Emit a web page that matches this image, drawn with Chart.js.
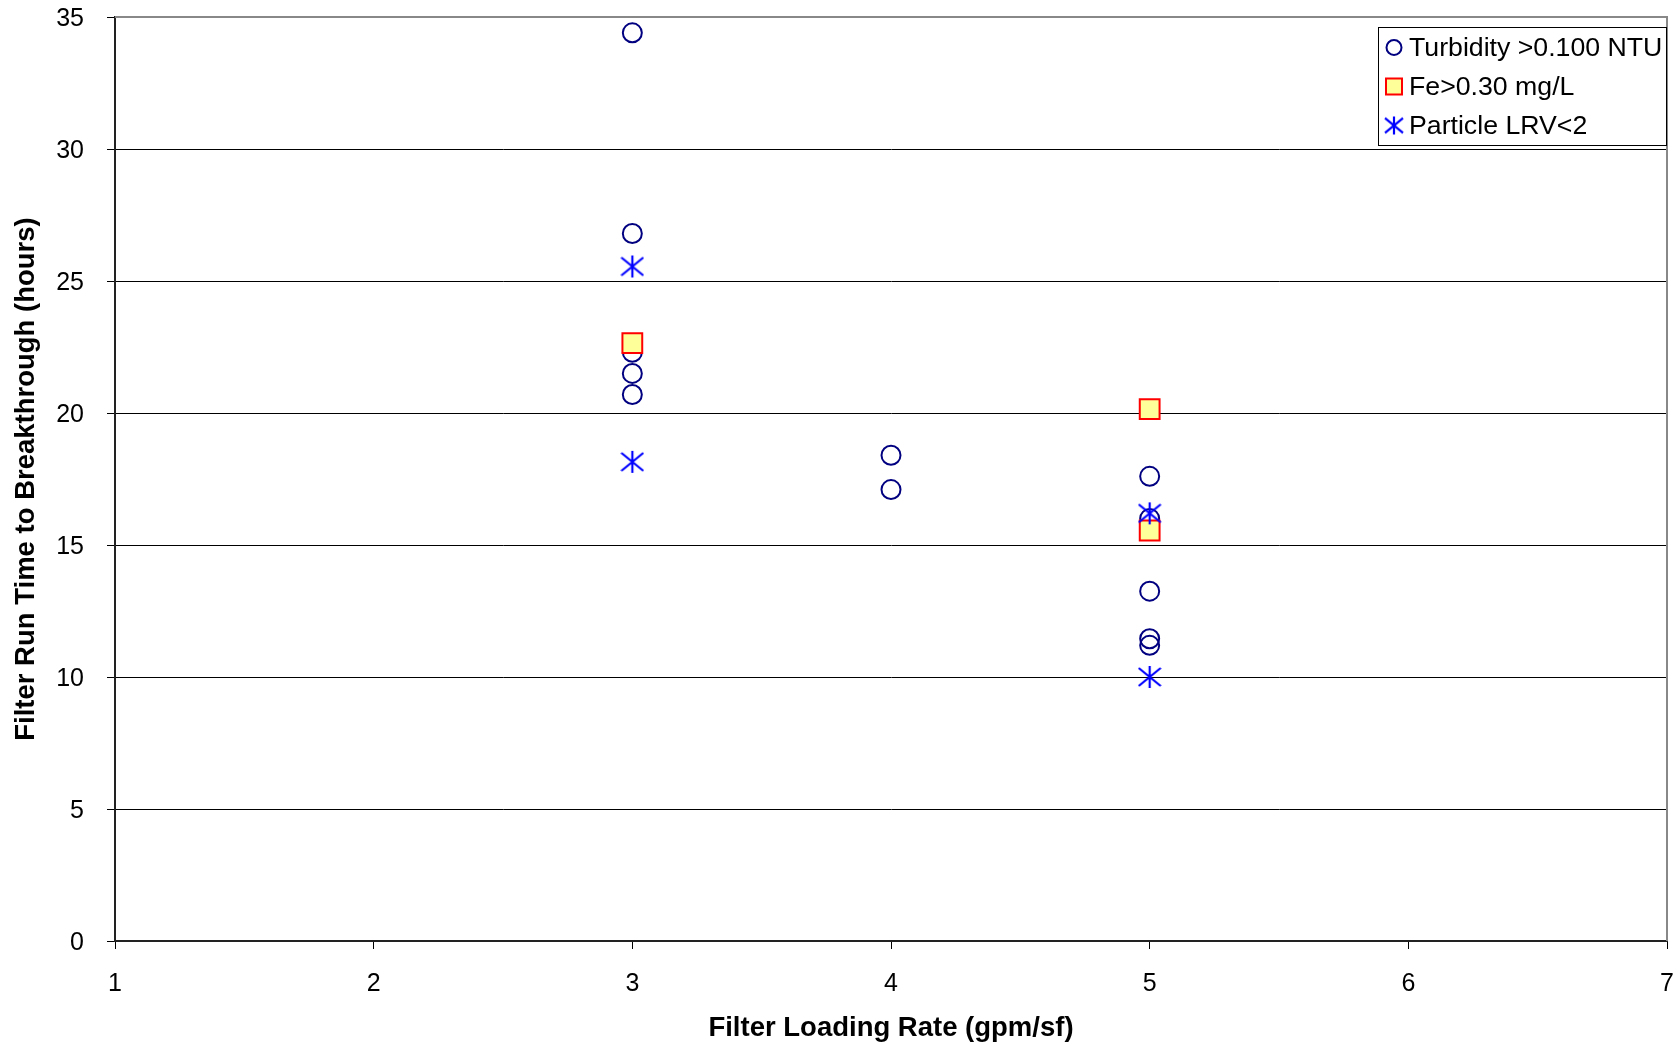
<!DOCTYPE html>
<html>
<head>
<meta charset="utf-8">
<script src="https://cdn.jsdelivr.net/npm/chart.js"></script>
<style>
  html, body { margin: 0; padding: 0; background: #fff; }
  #wrap { width: 1674px; height: 1045px; position: relative; }
</style>
</head>
<body>
<div id="wrap"><canvas id="c"></canvas></div>
<script>
// ---- data ----
const xTickLabels = ['1', '2', '3', '4', '5', '6', '7'];
const yTickLabels = ['0', '5', '10', '15', '20', '25', '30', '35'];

const turbidityX = [3, 3, 3, 3, 3, 4, 4, 5, 5, 5, 5, 5];
const turbidityY = [34.4, 26.8, 22.3, 21.5, 20.7, 18.4, 17.1, 17.6, 16.0, 13.25, 11.45, 11.2];

const ironX = [3, 5, 5];
const ironY = [22.65, 20.15, 15.55];

const particleX = [3, 3, 5, 5];
const particleY = [25.55, 18.15, 16.2, 10.0];

const seriesNames = ['Turbidity >0.100 NTU', 'Fe>0.30 mg/L', 'Particle LRV<2'];

const FONT = "'Liberation Sans', Arial, sans-serif";

function pts(xs, ys) { return xs.map((x, i) => ({ x: x, y: ys[i] })); }

function makeAsterisk(size, lw) {
  const c = document.createElement('canvas');
  c.width = size; c.height = size;
  const g = c.getContext('2d');
  g.strokeStyle = '#0000FF';
  g.lineWidth = lw;
  const m = size / 2, h = size / 2 - 1, d = h * 0.82;
  g.beginPath();
  g.moveTo(m, m - h); g.lineTo(m, m + h);
  g.moveTo(m - h, m - d); g.lineTo(m + h, m + d);
  g.moveTo(m - h, m + d); g.lineTo(m + h, m - d);
  g.stroke();
  return c;
}
const asteriskBig = makeAsterisk(24, 2.2);
const asteriskSmall = makeAsterisk(20, 2.2);

const framePlugin = {
  id: 'frame',
  beforeDatasetsDraw(chart) {
    const a = chart.chartArea, ctx = chart.ctx;
    ctx.save();
    ctx.strokeStyle = '#888888';
    ctx.lineWidth = 2;
    ctx.beginPath();
    ctx.moveTo(a.left, a.top); ctx.lineTo(a.right, a.top); ctx.lineTo(a.right, a.bottom);
    ctx.stroke();
    ctx.restore();
  }
};

const legendPlugin = {
  id: 'boxLegend',
  afterDraw(chart) {
    const a = chart.chartArea, ctx = chart.ctx;
    const w = 289, h = 119;
    const x0 = a.right - w, y0 = a.top + 10;
    ctx.save();
    ctx.fillStyle = '#fff';
    ctx.fillRect(x0, y0, w, h);
    ctx.strokeStyle = '#000';
    ctx.lineWidth = 1;
    ctx.strokeRect(x0 + 0.5, y0 + 0.5, w - 1, h - 1);
    const rows = [y0 + 20.5, y0 + 59.5, y0 + 98.5];
    const mx = x0 + 16;
    // circle
    ctx.beginPath();
    ctx.arc(mx, rows[0], 7.5, 0, Math.PI * 2);
    ctx.strokeStyle = '#000080'; ctx.lineWidth = 2; ctx.stroke();
    // square
    ctx.fillStyle = '#FFFF99';
    ctx.fillRect(mx - 8, rows[1] - 8, 16, 16);
    ctx.strokeStyle = '#FF0000'; ctx.lineWidth = 2;
    ctx.strokeRect(mx - 8, rows[1] - 8, 16, 16);
    // asterisk
    ctx.drawImage(asteriskSmall, mx - 10, rows[2] - 10);
    ctx.fillStyle = '#000';
    ctx.font = '26.7px ' + FONT;
    ctx.textBaseline = 'middle';
    ctx.textAlign = 'left';
    seriesNames.forEach((t, i) => ctx.fillText(t, x0 + 31, rows[i] + 1));
    ctx.restore();
  }
};

function zeroPad(s) { s.paddingTop = 0; s.paddingBottom = 0; s.paddingLeft = 0; s.paddingRight = 0; }

new Chart(document.getElementById('c'), {
  type: 'scatter',
  data: {
    datasets: [
      {
        label: seriesNames[0], data: pts(turbidityX, turbidityY), order: 3,
        pointStyle: 'circle', pointRadius: 9.5, pointHoverRadius: 9.5,
        borderColor: '#000080', backgroundColor: 'rgba(0,0,0,0)', borderWidth: 2, pointBorderWidth: 2
      },
      {
        label: seriesNames[1], data: pts(ironX, ironY), order: 2,
        pointStyle: 'rect', pointRadius: 14, pointHoverRadius: 14,
        borderColor: '#FF0000', backgroundColor: '#FFFF99', borderWidth: 2, pointBorderWidth: 2
      },
      {
        label: seriesNames[2], data: pts(particleX, particleY), order: 1,
        pointStyle: asteriskBig, pointRadius: 12,
        borderColor: '#0000FF', backgroundColor: '#0000FF'
      }
    ]
  },
  options: {
    responsive: true,
    maintainAspectRatio: false,
    animation: false,
    events: [],
    layout: { autoPadding: false, padding: { top: 17, right: 7, left: 0, bottom: 0 } },
    plugins: { legend: { display: false }, tooltip: { enabled: false } },
    scales: {
      x: {
        type: 'linear', min: 1, max: 7,
        afterFit: s => { s.height = 104; zeroPad(s); },
        afterBuildTicks: s => { s.ticks = xTickLabels.map(v => ({ value: Number(v) })); },
        ticks: {
          stepSize: 1, color: '#000', padding: 20,
          font: { family: FONT, size: 25 },
          callback: (v) => xTickLabels[xTickLabels.indexOf(String(v))]
        },
        grid: { drawOnChartArea: false, drawTicks: true, tickLength: 8, tickColor: '#000', tickWidth: 1 },
        border: { display: true, color: '#222', width: 2 },
        title: {
          display: true, text: 'Filter Loading Rate (gpm/sf)', color: '#000',
          font: { family: FONT, size: 27.5, weight: 'bold' }, padding: { top: 0, bottom: 0 }
        }
      },
      y: {
        type: 'linear', min: 0, max: 35,
        afterFit: s => { s.width = 115; zeroPad(s); },
        afterBuildTicks: s => { s.ticks = yTickLabels.map(v => ({ value: Number(v) })); },
        ticks: {
          stepSize: 5, color: '#000', padding: 23, labelOffset: 2,
          font: { family: FONT, size: 25 },
          callback: (v) => yTickLabels[yTickLabels.indexOf(String(v))]
        },
        grid: {
          drawOnChartArea: true, drawTicks: true, tickLength: 8, tickColor: '#000', tickWidth: 1,
          color: (ctx) => (ctx.tick && ctx.tick.value === 35) ? 'rgba(0,0,0,0)' : '#000',
          lineWidth: 1
        },
        border: { display: true, color: '#222', width: 2 },
        title: {
          display: true, text: 'Filter Run Time to Breakthrough (hours)', color: '#000',
          font: { family: FONT, size: 27.5, weight: 'bold' }, padding: { top: 10, bottom: 0 }
        }
      }
    }
  },
  plugins: [framePlugin, legendPlugin]
});
</script>
</body>
</html>
